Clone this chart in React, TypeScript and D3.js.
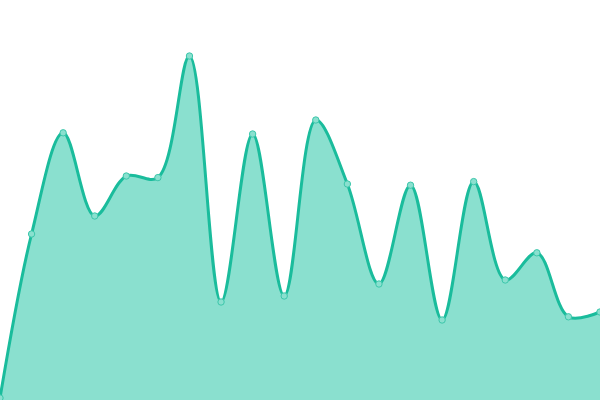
import React, { useRef, useEffect } from 'react';
import * as d3 from 'd3';

// one value per point, left to right
const labels = ['1', '2', '3', '4', '5', '6', '7', '8', '9', '10', '11', '12', '13', '14', '15', '16', '17', '18', '19', '20'];
const values = [0.5, 41.5, 66.8, 46, 56, 55.6, 86, 24.5, 66.5, 26, 70, 54, 29, 53.7, 20, 54.6, 30, 36.8, 20.8, 22];

const WIDTH = 600;
const HEIGHT = 400;
const LINE = '#1abc9c';
const FILL = '#8ae0cf';

const AreaChart = () => {
  const ref = useRef<SVGSVGElement>(null);

  useEffect(() => {
    if (!ref.current) return;
    const svg = d3.select(ref.current);
    svg.selectAll('*').remove();

    const x = d3.scalePoint<string>().domain(labels).range([0, WIDTH]);
    const y = d3.scaleLinear().domain([0, 100]).range([HEIGHT, 0]);

    const data = values.map((v, i) => ({ label: labels[i], value: v }));

    const area = d3
      .area<{ label: string; value: number }>()
      .x((d) => x(d.label) as number)
      .y0(HEIGHT)
      .y1((d) => y(d.value))
      .curve(d3.curveCatmullRom);

    const line = d3
      .line<{ label: string; value: number }>()
      .x((d) => x(d.label) as number)
      .y((d) => y(d.value))
      .curve(d3.curveCatmullRom);

    svg.append('path').datum(data).attr('d', area).attr('fill', FILL);

    svg
      .append('path')
      .datum(data)
      .attr('d', line)
      .attr('fill', 'none')
      .attr('stroke', LINE)
      .attr('stroke-width', 3);

    svg
      .selectAll('circle.pt')
      .data(data)
      .enter()
      .append('circle')
      .attr('class', 'pt')
      .attr('cx', (d) => x(d.label) as number)
      .attr('cy', (d) => y(d.value))
      .attr('r', 3.2)
      .attr('fill', FILL)
      .attr('stroke', '#3cc7ab')
      .attr('stroke-width', 1);
  }, []);

  return (
    <svg
      ref={ref}
      width={WIDTH}
      height={HEIGHT}
      style={{ position: 'absolute', left: 0, top: 0, display: 'block' }}
    />
  );
};

export default function App() {
  return <AreaChart />;
}
